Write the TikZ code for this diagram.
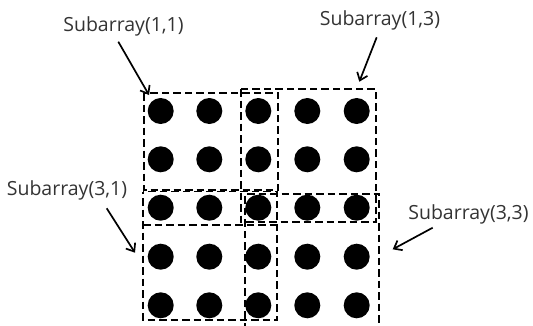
\documentclass[tikz,border=0pt]{standalone}
\usepackage{fontspec}
\setmainfont{Open Sans}
\usetikzlibrary{arrows.meta}
\begin{document}
\begin{tikzpicture}[x=1pt,y=-1pt,
  dot/.style={circle,fill=black,inner sep=0pt,minimum size=26pt},
  subbox/.style={draw=black,line width=1.2pt,dash pattern=on 7.5pt off 4pt},
  lbl/.style={inner sep=0pt,anchor=base,text=black!80,font=\fontsize{19.5}{22}\selectfont},
  pointer/.style={draw=black,line width=1.7pt,-{Straight Barb[length=7pt,width=11pt,line width=1.7pt]}}]
  \useasboundingbox (0,0) rectangle (533,325);

  % 5x5 array of elements
  \foreach \c/\x in {1/160.7,2/209.3,3/258.3,4/307.3,5/356.7}
    \foreach \r/\y in {1/111,2/159.3,3/207.7,4/256.7,5/305.3}
      \node[dot] (e\r\c) at (\x,\y) {};

  % overlapping subarray outlines
  \draw[subbox] (144,93) rectangle (278,190);
  \draw[subbox,dash phase=5pt] (143,191.5) rectangle (277,320);
  \draw[subbox] (143,225) -- (277,225);
  \draw[subbox] (241,89) rectangle (376,222);
  \draw[subbox] (245,330) -- (245,194) -- (379,194) -- (379,330);

  % labels
  \node[lbl] (l11) at (123.5,31.5) {Subarray(1,1)};
  \node[lbl] (l13) at (380,25) {Subarray(1,3)};
  \node[lbl] (l31) at (67,195) {Subarray(3,1)};
  \node[lbl] (l33) at (468.5,219.3) {Subarray(3,3)};

  % pointer tails below the labels and the corners they aim at
  \coordinate (t11) at (118.3,41.7);
  \coordinate (t13) at (376.7,37.3);
  \coordinate (t31) at (106.7,208.3);
  \coordinate (t33) at (432.7,227.7);
  \coordinate (p11) at (149,95);
  \coordinate (p13) at (359.3,81.7);
  \coordinate (p31) at (135,252.7);
  \coordinate (p33) at (392.7,249.3);

  % pointers
  \draw[pointer] (t11) -- (p11);
  \draw[pointer] (t13) -- (p13);
  \draw[pointer] (t31) -- (p31);
  \draw[pointer] (t33) -- (p33);
\end{tikzpicture}
\end{document}
